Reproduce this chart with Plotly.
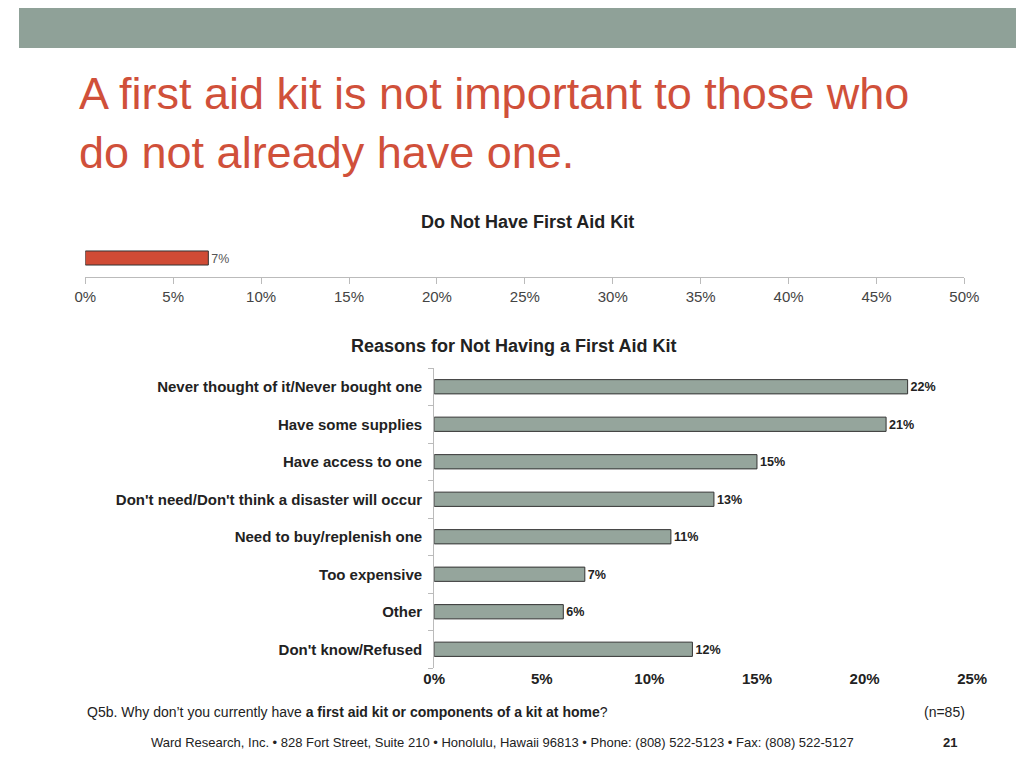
import plotly.graph_objects as go

have_kit_label = ["Do Not Have"]
have_kit_pct = [7]

reasons = [
    "Never thought of it/Never bought one",
    "Have some supplies",
    "Have access to one",
    "Don't need/Don't think a disaster will occur",
    "Need to buy/replenish one",
    "Too expensive",
    "Other",
    "Don't know/Refused",
]
reason_pct = [22, 21, 15, 13, 11, 7, 6, 12]

H = 768
W = 1024
FONT = "Liberation Sans, Arial, sans-serif"
GREY = "#9aa69f"

fig = go.Figure()
fig.add_trace(go.Bar(
    x=have_kit_pct, y=[0], orientation="h", width=0.37,
    marker=dict(color="#d04b35", line=dict(color="#333", width=1)),
    text=[f"{v}%" for v in have_kit_pct], textposition="outside",
    textfont=dict(size=15, color="#555"), cliponaxis=False,
    xaxis="x", yaxis="y", hoverinfo="skip",
))
fig.add_trace(go.Bar(
    x=reason_pct, y=list(range(len(reasons))), orientation="h", width=0.38,
    marker=dict(color="#95a59c", line=dict(color="#333", width=1)),
    text=[f"<b>{v}%</b>" for v in reason_pct], textposition="outside",
    textfont=dict(size=15, color="#222"), cliponaxis=False,
    xaxis="x2", yaxis="y2", hoverinfo="skip",
))

fig.update_layout(
    width=W, height=H, margin=dict(l=0, r=0, t=0, b=0),
    paper_bgcolor="white", plot_bgcolor="white", showlegend=False,
    font=dict(family=FONT, color="#222"),
    xaxis=dict(domain=[68 / W, 970 / W], range=[0, 50], dtick=5, ticksuffix="%",
               showgrid=False, zeroline=False, showline=True, linecolor="#bbb",
               ticks="outside", tickcolor="#bbb", ticklen=6,
               tickfont=dict(size=15, color="#444"), anchor="y"),
    yaxis=dict(domain=[1 - 269 / H, 1 - 231 / H], range=[-0.5, 0.5],
               visible=False, anchor="x"),
    xaxis2=dict(domain=[426 / W, 978 / W], range=[0, 25], dtick=5, ticksuffix="%",
                showgrid=False, zeroline=False, showline=False,
                tickfont=dict(size=15, color="#222", family=FONT),
                anchor="y2"),
    yaxis2=dict(domain=[1 - 660 / H, 1 - 360 / H], range=[7.5, -0.5],
                tickvals=list(range(len(reasons))),
                ticktext=[f"<b>{r}</b>" for r in reasons],
                tickfont=dict(size=15, color="#222"), ticks="", ticklabelstandoff=8,
                showgrid=False, zeroline=False, showline=True, linecolor="#bbb",
                minor=dict(tick0=0.5, dtick=1, ticks="outside", ticklen=5, tickcolor="#bbb"),
                anchor="x2"),
)
fig.update_xaxes(selector=dict(anchor="y2"), tickprefix="<b>", ticksuffix="%</b>")

fig.add_shape(type="rect", xref="paper", yref="paper", x0=0, x1=1, y0=1 - 40 / H, y1=1,
              fillcolor="#8fa198", line_width=0, layer="below")

fig.add_annotation(text="A first aid kit is not important to those who<br>do not already have one.",
                   xref="paper", yref="paper", x=60 / W, y=1 - 58 / H, xanchor="left", yanchor="top",
                   align="left", showarrow=False,
                   font=dict(size=45, color="#d0503a", family=FONT))
fig.add_annotation(text="<b>Do Not Have First Aid Kit</b>", xref="paper", yref="paper",
                   x=522 / W, y=1 - 202 / H, showarrow=False, font=dict(size=18))
fig.add_annotation(text="<b>Reasons for Not Having a First Aid Kit</b>", xref="paper", yref="paper",
                   x=507 / W, y=1 - 338 / H, showarrow=False, font=dict(size=18))
fig.add_annotation(text="Q5b. Why don’t you currently have <b>a first aid kit or components of a kit at home</b>?",
                   xref="paper", yref="paper", x=68 / W, y=1 - 714 / H, xanchor="left",
                   showarrow=False, font=dict(size=14))
fig.add_annotation(text="(n=85)", xref="paper", yref="paper", x=973 / W, y=1 - 714 / H,
                   xanchor="right", showarrow=False, font=dict(size=14))
fig.add_annotation(text="Ward Research, Inc. • 828 Fort Street, Suite 210 • Honolulu, Hawaii 96813 • Phone: (808) 522-5123 • Fax: (808) 522-5127",
                   xref="paper", yref="paper", x=133 / W, y=1 - 744 / H, xanchor="left",
                   showarrow=False, font=dict(size=13))
fig.add_annotation(text="<b>21</b>", xref="paper", yref="paper", x=965 / W, y=1 - 744 / H,
                   showarrow=False, font=dict(size=13))

fig.write_html("out.html")
